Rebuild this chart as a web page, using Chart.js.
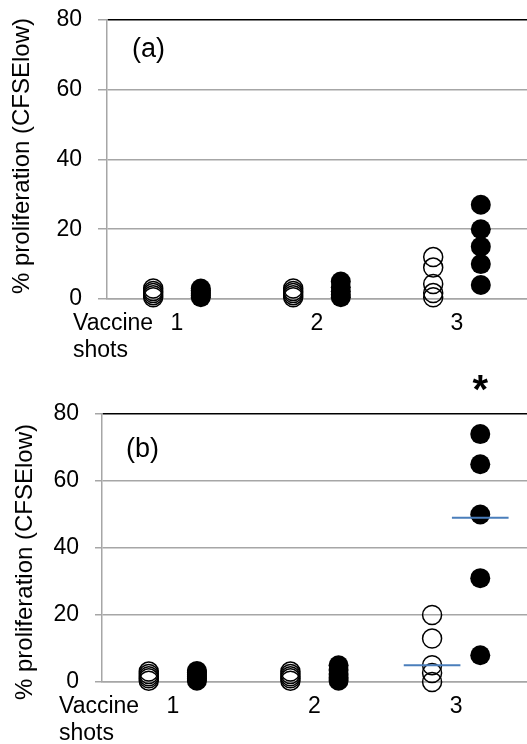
<!DOCTYPE html>
<html><head><meta charset="utf-8">
<script src="https://cdn.jsdelivr.net/npm/chart.js@4"></script>
<style>
html,body{margin:0;padding:0;background:#fff;width:527px;height:744px;overflow:hidden;position:relative}
#a{position:absolute;left:0;top:-10px;width:527px;height:375px}
#b{position:absolute;left:0;top:365px;width:527px;height:379px}
</style></head><body>
<div id="a"><canvas id="ca" width="527" height="375"></canvas></div>
<div id="b"><canvas id="cb" width="527" height="379"></canvas></div>
<script>
// ---- data ----
const shotLabels = ["1", "2", "3"];
const yTicks = [0, 20, 40, 60, 80];
const yTitle = "% proliferation (CFSElow)";
// panel (a): open circles, filled circles, per vaccine shot
const aOpen = [[0.5, 1.1, 1.7, 2.3, 3.0], [0.5, 1.1, 1.7, 2.3, 3.0], [0.5, 1.7, 4.3, 9, 12]];
const aFilled = [[0.5, 1, 1.5, 2, 2.5, 3], [0.5, 1.2, 2.2, 3.4, 5], [4, 10, 15, 20, 27]];
// panel (b)
const bOpen = [[0.4, 1.1, 1.7, 2.4, 3.1], [0.4, 1.1, 1.7, 2.4, 3.1], [0, 2.7, 5, 13, 20]];
const bFilled = [[0.4, 1, 1.6, 2.2, 2.8, 3.3], [0.4, 1.3, 2.4, 3.6, 5], [8, 31, 50, 65, 74]];
const bMedianOpen = [null, null, 5];
const bMedianFilled = [null, null, 49];

// ---- styling ----
const FONT = "'Liberation Sans', Arial, sans-serif";
const GRID = '#a6a6a6';
const OPEN_OFF = 0.33, FILLED_OFF = 0.67, MED_HALF = 0.2;

function pts(groups, off) {
  const out = [];
  groups.forEach((g, i) => g.forEach(v => out.push({x: i + off, y: v})));
  return out;
}
function medianSets(meds, off) {
  const sets = [];
  meds.forEach((m, i) => {
    if (m === null) return;
    sets.push({type: 'line', data: [{x: i + off - MED_HALF, y: m}, {x: i + off + MED_HALF, y: m}],
      borderColor: '#4a7ebb', borderWidth: 2, pointRadius: 0, showLine: true, order: 0, clip: false});
  });
  return sets;
}

const textPlugin = {
  id: 'panelText',
  afterDraw(chart, args, o) {
    const ctx = chart.ctx;
    ctx.save();
    ctx.fillStyle = '#000';
    ctx.textAlign = 'left';
    ctx.textBaseline = 'alphabetic';
    ctx.font = '27px ' + FONT;
    ctx.fillText(o.panel, o.panelX, o.panelY);
    ctx.font = '23px ' + FONT;
    ctx.fillText('Vaccine', o.vx, o.vy);
    ctx.fillText('shots', o.vx, o.vy + 27);
    if (o.star) {
      ctx.font = 'bold 40px ' + FONT;
      ctx.textAlign = 'center';
      const sx = chart.scales.x.getPixelForValue(2 + FILLED_OFF);
      ctx.fillText('*', sx, o.starY);
    }
    // rotated y-axis title
    ctx.translate(o.tx, o.ty);
    ctx.rotate(-Math.PI / 2);
    ctx.textAlign = 'center';
    ctx.textBaseline = 'middle';
    ctx.font = '24px ' + FONT;
    ctx.fillText(yTitle, 0, 0);
    ctx.restore();
  }
};

function makeChart(id, open, filled, extra, cfg) {
  const datasets = [
    {data: pts(open, OPEN_OFF), backgroundColor: 'rgba(255,255,255,0)', borderColor: '#000',
     borderWidth: 1.5, pointRadius: 9.5, order: 2, clip: false},
    {data: pts(filled, FILLED_OFF), backgroundColor: '#000', borderColor: '#000',
     borderWidth: 0, pointRadius: 10, order: 1, clip: false},
    ...extra
  ];
  return new Chart(document.getElementById(id), {
    type: 'scatter',
    data: {datasets},
    plugins: [textPlugin],
    options: {
      responsive: false, animation: false,
      layout: {autoPadding: false, padding: {top: cfg.top, right: 0, bottom: 0, left: 0}},
      plugins: {legend: {display: false}, tooltip: {enabled: false}, panelText: cfg.text},
      scales: {
        x: {
          type: 'linear', min: 0, max: 3,
          afterBuildTicks: s => { s.ticks = shotLabels.map((l, i) => ({value: i + 0.5})); },
          afterFit: s => { s.height = cfg.xh; },
          ticks: {callback: (v, i) => shotLabels[i], font: {family: FONT, size: 23}, color: '#000',
                  padding: cfg.xpad, maxRotation: 0, autoSkip: false},
          grid: {display: false, drawTicks: false},
          border: {color: GRID, width: 1.5}
        },
        y: {
          min: 0, max: 80,
          afterBuildTicks: s => { s.ticks = yTicks.map(v => ({value: v})); },
          afterFit: s => { s.width = cfg.yw; },
          ticks: {font: {family: FONT, size: 23}, color: '#000', padding: cfg.ypad},
          grid: {color: c => (c.tick && c.tick.value === 80) ? '#000' : GRID, lineWidth: 1.5,
                 tickLength: cfg.tl, tickColor: GRID},
          border: {color: GRID, width: 1.5},
          title: {display: false}
        }
      }
    }
  });
}

makeChart('ca', aOpen, aFilled, [], {
  top: 29, xh: 375 - 309, yw: 107, xpad: 11, ypad: 16, tl: 9,
  text: {panel: '(a)', panelX: 132, panelY: 67, vx: 73, vy: 340, star: false, tx: 22, ty: 166}
});
makeChart('cb', bOpen, bFilled,
  [...medianSets(bMedianOpen, OPEN_OFF), ...medianSets(bMedianFilled, FILLED_OFF)], {
  top: 49, xh: 379 - 317, yw: 102, xpad: 11, ypad: 16, tl: 7,
  text: {panel: '(b)', panelX: 126, panelY: 457 - 365, vx: 59, vy: 713 - 365, star: true, starY: 403 - 365,
         tx: 25, ty: 562 - 365}
});
</script>
</body></html>
